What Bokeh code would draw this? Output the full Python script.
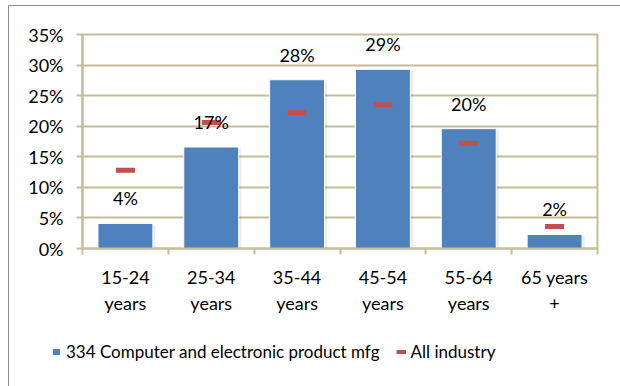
from bokeh.plotting import figure
from bokeh.layouts import column
from bokeh.models import (ColumnDataSource, FixedTicker, LinearAxis, Legend,
                          LegendItem, Range1d, PrintfTickFormatter, Grid)
from bokeh.transform import dodge
from bokeh.core.properties import value
from bokeh.embed import file_html
from bokeh.resources import INLINE
import numpy as np

# Age groups of the workforce
categories = ["15-24\nyears", "25-34\nyears", "35-44\nyears", "45-54\nyears",
              "55-64\nyears", "65 years\n+"]
# Share of employment, percent
computer_mfg = [4.1, 16.6, 27.6, 29.3, 19.6, 2.3]
all_industry = [12.8, 20.6, 22.2, 23.5, 17.2, 3.6]
y_ticks = [0, 5, 10, 15, 20, 25, 30, 35]
series_names = ["334 Computer and electronic product mfg", "All industry"]

FONT = "Lato"
FS = "18px"
TAN = "#C4BD97"
BLUE = "#4F81BD"
RED = "#C0504D"

n = len(categories)
pos = np.arange(n) + 0.5
src = ColumnDataSource(dict(
    x=pos,
    comp=computer_mfg,
    allind=all_industry,
    lab=[f"{v:.0f}%" for v in computer_mfg],
))

p = figure(width=611, height=324, frame_width=515, frame_height=214,
           x_range=Range1d(0, n), y_range=Range1d(0, 35),
           output_backend="svg", toolbar_location=None,
           x_axis_location=None, y_axis_location=None,
           min_border_left=73, min_border_right=23,
           min_border_top=28, min_border_bottom=82)
p.background_fill_color = "white"
p.border_fill_color = "white"
p.outline_line_color = TAN
p.outline_line_width = 2


def style_labels(ax, size=FS):
    ax.major_label_text_font = FONT
    ax.major_label_text_font_size = size
    ax.major_label_text_color = "black"


# y axis
yax = LinearAxis(ticker=FixedTicker(ticks=y_ticks),
                 formatter=PrintfTickFormatter(format="%d%%"))
yax.axis_line_color = TAN
yax.axis_line_width = 2
yax.major_tick_line_color = TAN
yax.major_tick_line_width = 2
yax.major_tick_out = 6
yax.major_tick_in = 0
yax.minor_tick_line_color = None
yax.major_label_standoff = 13
style_labels(yax)
p.add_layout(yax, "left")

# x axis: two stacked label rows, boundary ticks on the first
first_line = [c.split("\n")[0] for c in categories]
second_line = [c.split("\n")[1] for c in categories]

xax = LinearAxis(ticker=FixedTicker(ticks=list(pos), minor_ticks=list(range(n + 1))),
                 major_label_overrides={float(x): c for x, c in zip(pos, first_line)})
xax.axis_line_color = TAN
xax.axis_line_width = 2
xax.major_tick_line_color = None
xax.major_tick_out = 0
xax.major_tick_in = 0
xax.minor_tick_line_color = TAN
xax.minor_tick_line_width = 2
xax.minor_tick_out = 6
xax.minor_tick_in = 0
xax.major_label_standoff = 11
style_labels(xax)
p.add_layout(xax, "below")

xax2 = LinearAxis(ticker=FixedTicker(ticks=list(pos), minor_ticks=[]),
                  major_label_overrides={float(x): c for x, c in zip(pos, second_line)})
xax2.axis_line_color = None
xax2.major_tick_line_color = None
xax2.minor_tick_line_color = None
xax2.major_tick_out = 0
xax2.major_tick_in = 0
xax2.major_label_standoff = 1
style_labels(xax2)
p.add_layout(xax2, "below")

p.xgrid.grid_line_color = None
p.ygrid.grid_line_color = None
p.add_layout(Grid(dimension=1, ticker=yax.ticker, grid_line_color=TAN, grid_line_width=2))

# soft shadow behind the bars
p.vbar(x=dodge("x", 0.02), top=dodge("comp", -0.25), width=0.66, bottom=0,
       source=src, fill_color="black", fill_alpha=0.08, line_color=None)

# bars
p.vbar(x="x", top="comp", width=0.64, bottom=0, source=src,
       fill_color=BLUE, line_color="white", line_width=1)

# all-industry markers
p.rect(x="x", y="allind", width=19, height=5, width_units="screen",
       height_units="screen", source=src, fill_color=RED, line_color=None)

# value labels
p.text(x="x", y="comp", text="lab", source=src, y_offset=-25,
       text_align="center", text_baseline="middle",
       text_font=value(FONT), text_font_size=FS, text_color="black")

# legend strip underneath the chart; the proxy glyphs sit outside its ranges
lg = figure(width=611, height=56, x_range=Range1d(0, 1), y_range=Range1d(0, 1),
            output_backend="svg", toolbar_location=None,
            x_axis_location=None, y_axis_location=None,
            min_border_left=0, min_border_right=0,
            min_border_top=0, min_border_bottom=0)
lg.frame_align = False
lg.outline_line_color = None
lg.xgrid.grid_line_color = None
lg.ygrid.grid_line_color = None
lg.background_fill_color = "white"
lg.border_fill_color = "white"
box_proxy = lg.vbar(x=[-5], top=[-5], bottom=-6, width=0.5, fill_color=BLUE,
                    line_color="white", line_width=1)
dash_proxy = lg.line(x=[-5, -4], y=[-5, -5], line_color=RED, line_width=4)

legend = Legend(items=[
    LegendItem(label=series_names[0], renderers=[box_proxy]),
    LegendItem(label=series_names[1], renderers=[dash_proxy]),
], location=(42, 24), orientation="horizontal")
legend.glyph_width = 10
legend.glyph_height = 9
legend.label_standoff = 5
legend.spacing = 16
legend.padding = 0
legend.margin = 0
legend.border_line_color = None
legend.background_fill_alpha = 0
legend.label_text_font = FONT
legend.label_text_font_size = "17px"
legend.label_text_color = "black"
lg.add_layout(legend, "center")

layout = column(p, lg, spacing=0)
layout.margin = (5, 0, 0, 8)
layout.styles = {"border-top": "1px solid #8C8C8C", "border-left": "1px solid #8C8C8C"}

open("out.html", "w").write(file_html(layout, INLINE))
